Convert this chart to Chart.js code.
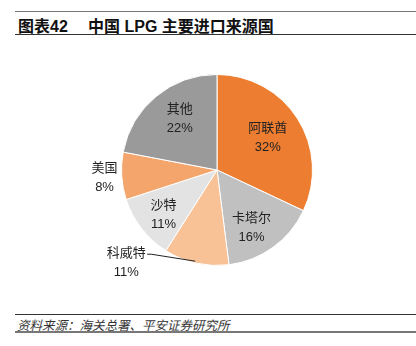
<!DOCTYPE html>
<html>
<head>
<meta charset="utf-8">
<script src="https://cdn.jsdelivr.net/npm/chart.js@4"></script>
<style>
  body { margin: 0; width: 416px; height: 346px; background: #fff; position: relative; overflow: hidden;
         font-family: "Liberation Sans", "Noto Sans CJK SC", sans-serif; }
  #head { position: absolute; left: 15px; top: 11px; width: 401px; height: 22px;
          border-top: 1px solid #777; border-bottom: 1px solid #333; }
  #head span { position: absolute; top: 1px; font-size: 16px; font-weight: bold; color: #111; }
  #foot { position: absolute; left: 15px; top: 314px; width: 401px; height: 16px;
          border-top: 1px solid #333; border-bottom: 2px solid #777; }
  #foot span { position: absolute; left: 2px; top: 0px; font-size: 12.5px; font-style: italic; color: #333; }
  #wrap { position: absolute; left: 0; top: 40px; width: 416px; height: 270px; }
</style>
</head>
<body>
<div id="head"><span style="left:3px">图表42</span><span style="left:73px">中国 LPG 主要进口来源国</span></div>
<div id="wrap"><canvas id="pie"></canvas></div>
<div id="foot"><span>资料来源：海关总署、平安证券研究所</span></div>
<script>
// data
var countries = ["阿联酋", "卡塔尔", "科威特", "沙特", "美国", "其他"];
var shares = [32, 16, 11, 11, 8, 22];

var colors = ["#ED7D31", "#C0C0C0", "#F8C196", "#E3E3E3", "#F4A56B", "#9A9A9A"];
// label placement: radius factor, angle shift (deg), outside with leader?
var labelPos = [
  {f: 0.63, a: 0},
  {f: 0.70, a: 5},
  {f: 1.0, a: 0, leader: true},
  {f: 0.73, a: -2},
  {f: 1.18, a: 0},
  {f: 0.67, a: 4}
];

var pieLabels = {
  id: 'pieLabels',
  afterDatasetsDraw: function(chart) {
    var ctx = chart.ctx;
    var arcs = chart.getDatasetMeta(0).data;
    ctx.save();
    ctx.font = '13px "Liberation Sans", "Noto Sans CJK SC", sans-serif';
    ctx.fillStyle = '#222';
    ctx.textAlign = 'center';
    ctx.textBaseline = 'middle';
    arcs.forEach(function(arc, i) {
      var p = labelPos[i];
      var mid = (arc.startAngle + arc.endAngle) / 2 + p.a * Math.PI / 180;
      var r = arc.outerRadius * p.f;
      var x = arc.x + Math.cos(mid) * r;
      var y = arc.y + Math.sin(mid) * r;
      if (p.leader) {
        ctx.strokeStyle = '#222';
        ctx.lineWidth = 1;
        ctx.beginPath();
        ctx.moveTo(x - 1, y - 2);
        ctx.lineTo(x - 45, y - 9);
        ctx.lineTo(x - 49, y - 9);
        ctx.stroke();
        x = x - 70;
        y = y - 1;
      }
      ctx.fillText(countries[i], x, y - 9);
      ctx.fillText(shares[i] + '%', x, y + 10);
    });
    ctx.restore();
  }
};

new Chart(document.getElementById('pie'), {
  type: 'pie',
  data: {
    labels: countries,
    datasets: [{
      data: shares,
      backgroundColor: colors,
      borderColor: '#fff',
      borderWidth: 1
    }]
  },
  options: {
    responsive: true,
    maintainAspectRatio: false,
    animation: false,
    layout: { padding: { left: 121, right: 103, top: 34, bottom: 44 } },
    plugins: { legend: { display: false }, tooltip: { enabled: false } }
  },
  plugins: [pieLabels]
});
</script>
</body>
</html>
